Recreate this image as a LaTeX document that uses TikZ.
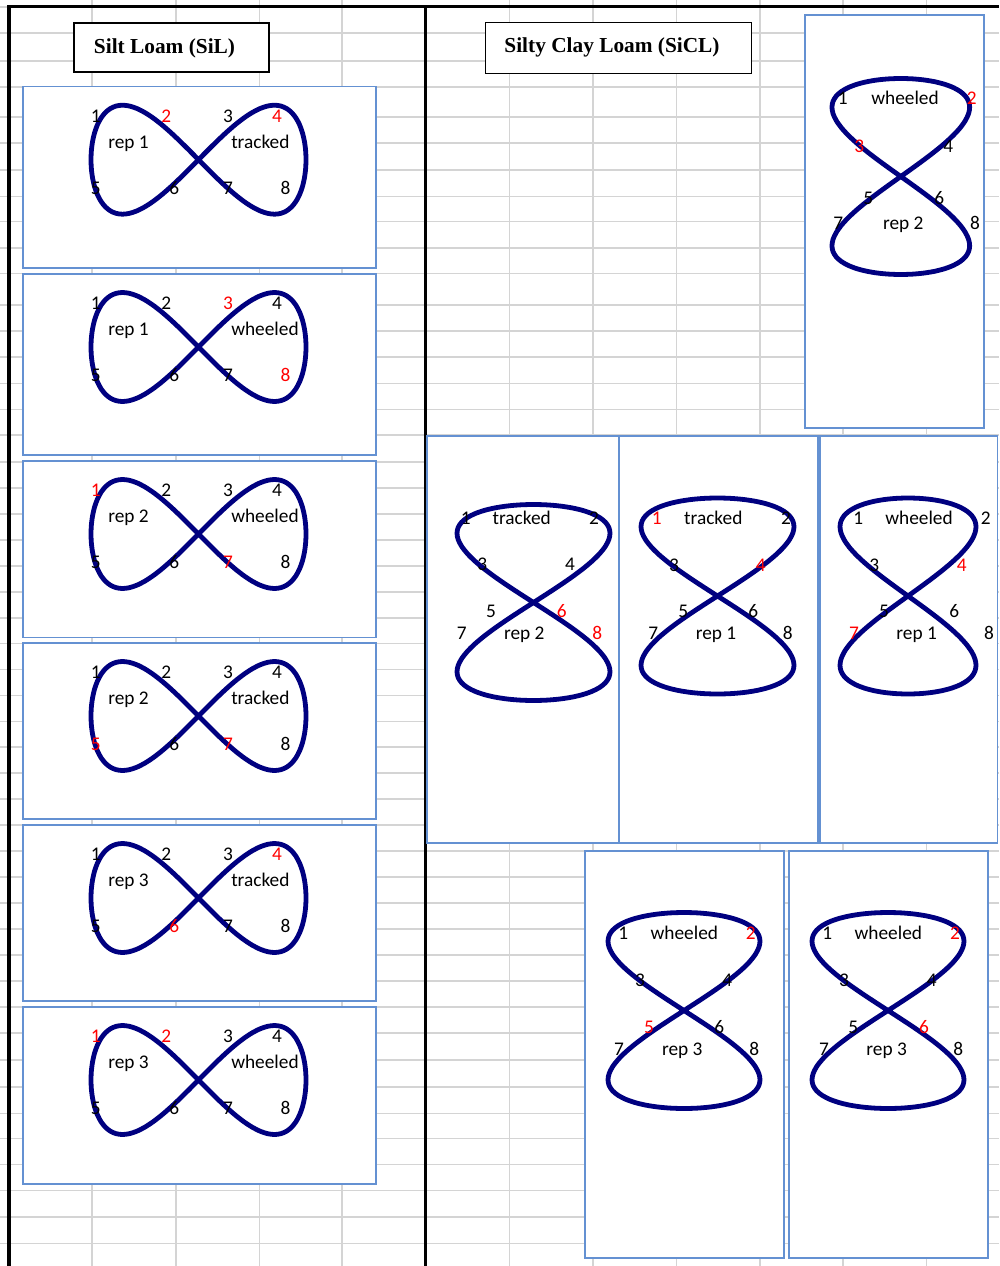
\documentclass[tikz,border=0pt]{standalone}
\usepackage{fontspec}
\setmainfont{Carlito}
\newfontfamily\titlefont{Liberation Serif}
\definecolor{gridgray}{RGB}{212,212,212}
\definecolor{boxblue}{RGB}{100,145,210}
\definecolor{loopnavy}{RGB}{0,0,128}
\tikzset{
  gridline/.style={draw=gridgray,line width=1.2pt},
  frameline/.style={draw=black,line width=2.4pt},
  panel/.style={draw=boxblue,fill=white,line width=0.9pt},
  titlebox/.style={draw=black,fill=white,line width=0.9pt},
  loopline/.style={draw=loopnavy,line width=3.6pt,line join=round},
  lbl/.style={anchor=base,inner sep=0pt,font=\fontsize{14.5}{17}\selectfont},
  ttl/.style={anchor=base,inner sep=0pt,font=\titlefont\bfseries\fontsize{16}{19}\selectfont},
}
% vertical figure-eight: centre x, centre y, full width parameter
\newcommand{\vloopat}[3]{\draw[loopline] plot[smooth cycle,domain=0:355,samples=72]
  ({#1+#3*sin(\x)*cos(\x)},{#2+98*cos(\x)});}
\begin{document}
\begin{tikzpicture}[x=0.75pt,y=-0.75pt]
\useasboundingbox (0,0) rectangle (999,1266);
\clip (0,0) rectangle (999,1266);
\fill[white] (0,0) rectangle (999,1266);
% spreadsheet grid
\foreach \gx in {92,176,259.3,342,509.3,592.7,676.3,759.7,843,926.3}
  \draw[gridline] (\gx,0) -- (\gx,1266);
\foreach \gy in {7,33.3,61,87.3,117.3,143.3,170,196.7,221.7,248.3,273.3,305,331,356.7,383.3,409.3,435,461.7,487.7,514,540,566,592,617.7,643.3,669.3,695.3,721.3,747.2,773.2,799.2,825.2,851.2,877.1,903.1,929.1,955.1,981,1007,1033,1060,1086.7,1113.3,1138.3,1164.5,1190.5,1216.7,1243.3}
  \draw[gridline] (0,\gy) -- (999,\gy);
% black frame lines
\draw[frameline] (7.5,6.7) -- (999,6.7);
\draw[frameline] (9,5.5) -- (9,1266);
\draw[frameline] (425.3,5.5) -- (425.3,1266);
% titles
\draw[titlebox] (74,23) rectangle (269,72);
\node[ttl] (title1) at (164.5,53.3) {Silt Loam (SiL)};
\draw[titlebox] (485.4,22.7) rectangle (751.2,73.7);
\node[ttl] (title2) at (612,52.7) {Silty Clay Loam (SiCL)};
% left column: horizontal figure-eights
\foreach \T/\B/\R/\M/\ca/\cb/\cc/\cd/\ce/\cf/\cg/\ch [count=\i] in {
  86.7/268/rep 1/tracked/black/red/black/red/black/black/black/black,
  274/455/rep 1/wheeled/black/black/red/black/black/black/black/red,
  461/637.7/rep 2/wheeled/red/black/black/black/black/black/red/black,
  643/819/rep 2/tracked/black/black/black/black/red/black/red/black,
  825/1001/rep 3/tracked/black/black/black/red/black/red/black/black,
  1007/1184/rep 3/wheeled/red/red/black/black/black/black/black/black}
{
  \draw[panel] (23,\T) rectangle (376,\B);
  \draw[loopline] plot[smooth cycle,domain=0:355,samples=72]
    ({198.5+107.5*cos(\x)},{\T+73+109*sin(\x)*cos(\x)});
  \node[lbl,text=\ca] (h\i n1) at (95.7,{\T+35.5}) {1};
  \node[lbl,text=\cb] (h\i n2) at (166.3,{\T+35.5}) {2};
  \node[lbl,text=\cc] (h\i n3) at (228,{\T+35.5}) {3};
  \node[lbl,text=\cd] (h\i n4) at (277,{\T+35.5}) {4};
  \node[lbl] (h\i rep) at (128.5,{\T+61.5}) {\R};
  \node[lbl,anchor=base west] (h\i mode) at (231,{\T+61.5}) {\M};
  \node[lbl,text=\ce] (h\i n5) at (95.7,{\T+107.5}) {5};
  \node[lbl,text=\cf] (h\i n6) at (174.3,{\T+107.5}) {6};
  \node[lbl,text=\cg] (h\i n7) at (228,{\T+107.5}) {7};
  \node[lbl,text=\ch] (h\i n8) at (285.5,{\T+107.5}) {8};
}
% right side: vertical figure-eights
% top right
\draw[panel] (805,15) rectangle (984,428);
\vloopat{900.8}{176.5}{137.7}
\node[lbl] (a1) at (842.7,104.3) {1};
\node[lbl] (amode) at (905,104.3) {wheeled};
\node[lbl,text=red] (a2) at (971.7,104.3) {2};
\node[lbl,text=red] (a3) at (859.3,152.7) {3};
\node[lbl] (a4) at (948.3,152.7) {4};
\node[lbl] (a5) at (868.3,204.3) {5};
\node[lbl] (a6) at (939.3,204.3) {6};
\node[lbl] (a7) at (838.3,229.3) {7};
\node[lbl] (arep) at (903.3,229.3) {rep 2};
\node[lbl] (a8) at (975,229.3) {8};
% middle row, panel 1
\draw[panel] (427,436) rectangle (619,843);
\vloopat{533.5}{602.5}{153}
\node[lbl] (b1) at (465.7,524.3) {1};
\node[lbl] (bmode) at (521.7,524.3) {tracked};
\node[lbl] (b2) at (594,524.3) {2};
\node[lbl] (b3) at (482.3,570.3) {3};
\node[lbl] (b4) at (570,570.3) {4};
\node[lbl] (b5) at (491,617.7) {5};
\node[lbl,text=red] (b6) at (561.7,617.7) {6};
\node[lbl] (b7) at (461.7,639.3) {7};
\node[lbl] (brep) at (524.3,639.3) {rep 2};
\node[lbl,text=red] (b8) at (597.3,639.3) {8};
% middle row, panel 2
\draw[panel] (619,436) rectangle (818,843);
\vloopat{717.5}{596}{153}
\node[lbl,text=red] (c1) at (656.7,524.3) {1};
\node[lbl] (cmode) at (713.3,524.3) {tracked};
\node[lbl] (c2) at (786,524.3) {2};
\node[lbl] (c3) at (674,571) {3};
\node[lbl,text=red] (c4) at (760.7,571) {4};
\node[lbl] (c5) at (683.3,617.7) {5};
\node[lbl] (c6) at (753.3,617.7) {6};
\node[lbl] (c7) at (653.3,639.3) {7};
\node[lbl] (crep) at (716,639.3) {rep 1};
\node[lbl] (c8) at (787.7,639.3) {8};
% middle row, panel 3
\draw[panel] (820,436) rectangle (997.5,843);
\vloopat{908}{596}{136}
\node[lbl] (d1) at (858.3,524.3) {1};
\node[lbl] (dmode) at (919,524.3) {wheeled};
\node[lbl] (d2) at (985.7,524.3) {2};
\node[lbl] (d3) at (874.3,571) {3};
\node[lbl,text=red] (d4) at (961.7,571) {4};
\node[lbl] (d5) at (884,617.7) {5};
\node[lbl] (d6) at (954.3,617.7) {6};
\node[lbl,text=red] (d7) at (854,639.3) {7};
\node[lbl] (drep) at (916.7,639.3) {rep 1};
\node[lbl] (d8) at (989,639.3) {8};
% bottom row, panel 1
\draw[panel] (585,851) rectangle (784,1258);
\vloopat{684}{1010.5}{152}
\node[lbl] (e1) at (623.3,939.3) {1};
\node[lbl] (emode) at (684.3,939.3) {wheeled};
\node[lbl,text=red] (e2) at (750.7,939.3) {2};
\node[lbl] (e3) at (640,986.7) {3};
\node[lbl] (e4) at (727.3,986.7) {4};
\node[lbl,text=red] (e5) at (649,1033.3) {5};
\node[lbl] (e6) at (719.3,1033.3) {6};
\node[lbl] (e7) at (619,1055.3) {7};
\node[lbl] (erep) at (682.3,1055.3) {rep 3};
\node[lbl] (e8) at (754.3,1055.3) {8};
% bottom row, panel 2
\draw[panel] (789,851) rectangle (988,1258);
\vloopat{888}{1010.5}{152}
\node[lbl] (f1) at (827.3,939.3) {1};
\node[lbl] (fmode) at (888.3,939.3) {wheeled};
\node[lbl,text=red] (f2) at (955,939.3) {2};
\node[lbl] (f3) at (844,986.7) {3};
\node[lbl] (f4) at (931.7,986.7) {4};
\node[lbl] (f5) at (853.3,1033.3) {5};
\node[lbl,text=red] (f6) at (924,1033.3) {6};
\node[lbl] (f7) at (824,1055.3) {7};
\node[lbl] (frep) at (886.7,1055.3) {rep 3};
\node[lbl] (f8) at (958.3,1055.3) {8};
\end{tikzpicture}
\end{document}
